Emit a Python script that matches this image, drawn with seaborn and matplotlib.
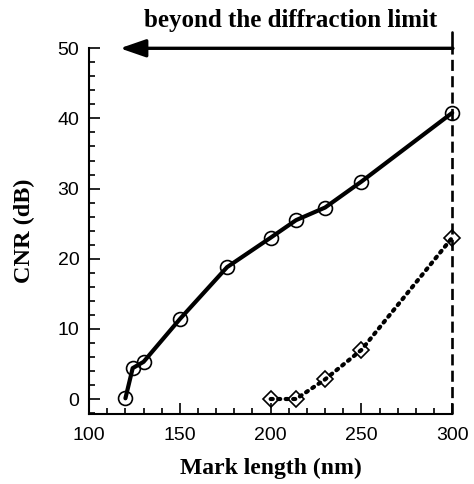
import matplotlib
matplotlib.use("Agg")
import matplotlib.pyplot as plt
from matplotlib.ticker import MultipleLocator
import seaborn as sns
import pandas as pd

# ── Data ─────────────────────────────────────────────────────────────────────
circle_x = [120, 124, 130, 150, 176, 200, 214, 230, 250, 300]
circle_y = [0.1, 4.4, 5.3, 11.4, 18.8, 23.0, 25.5, 27.3, 31.0, 40.8]

diamond_x = [200, 214, 230, 250, 300]
diamond_y = [0.0, 0.0, 2.8, 7.0, 23.0]

x_ticks = [100, 150, 200, 250, 300]
y_ticks = [0, 10, 20, 30, 40, 50]

annotation = "beyond the diffraction limit"
limit_x = 300

df_c = pd.DataFrame({"x": circle_x, "y": circle_y})
df_d = pd.DataFrame({"x": diamond_x, "y": diamond_y})

# ── Style ────────────────────────────────────────────────────────────────────
sns.set_theme(style="ticks")
plt.rcParams["font.family"] = ["Liberation Sans", "DejaVu Sans"]
plt.rcParams["text.color"] = "black"
plt.rcParams["axes.labelcolor"] = "black"
plt.rcParams["xtick.color"] = "black"
plt.rcParams["ytick.color"] = "black"

serif = ["Liberation Serif", "DejaVu Serif"]

fig = plt.figure(figsize=(4.74, 4.84), dpi=100)
ax = fig.add_axes([0.188, 0.1446, 0.766, 0.7556])

sns.lineplot(data=df_c, x="x", y="y", ax=ax, color="black", linewidth=3.0,
             marker="o", markersize=10, markerfacecolor="none",
             markeredgecolor="black", markeredgewidth=1.2, clip_on=False)
sns.lineplot(data=df_d, x="x", y="y", ax=ax, color="black", linewidth=3.0,
             linestyle=(0, (0.5, 1.3)), dash_capstyle="round",
             marker="D", markersize=8, markerfacecolor="none",
             markeredgecolor="black", markeredgewidth=1.2, clip_on=False)

# diffraction limit line and arrow
ax.plot([limit_x, limit_x], [-2.1, 50], color="black", linewidth=1.9,
        linestyle=(0, (4.2, 2.0)), clip_on=False)
ax.plot([limit_x, limit_x], [50, 52.3], color="black", linewidth=1.9,
        clip_on=False)
ax.annotate("", xy=(117, 50), xytext=(limit_x + 0.4, 50),
            arrowprops=dict(arrowstyle="-|>,head_length=1.3,head_width=0.45",
                            color="black", linewidth=2.4,
                            shrinkA=0, shrinkB=0),
            annotation_clip=False)
ax.text(211, 54.0, annotation, ha="center", va="center", fontsize=18,
        fontweight="bold", family=serif)

# ── Axes ─────────────────────────────────────────────────────────────────────
ax.set_xlim(100, 300)
ax.set_ylim(-2.14, 50)
ax.set_xticks(x_ticks)
ax.set_yticks(y_ticks)
ax.xaxis.set_minor_locator(MultipleLocator(10))
ax.yaxis.set_minor_locator(MultipleLocator(2))
ax.tick_params(which="both", direction="in", width=1.2, labelsize=14)
ax.tick_params(axis="x", pad=9)
ax.tick_params(axis="y", pad=7)
ax.tick_params(which="major", length=8)
ax.tick_params(which="minor", length=4)

sns.despine(ax=ax)
ax.spines["left"].set_linewidth(1.5)
ax.spines["bottom"].set_linewidth(1.5)
ax.spines["left"].set_color("black")
ax.spines["bottom"].set_color("black")

ax.set_xlabel("Mark length (nm)", fontsize=17, fontweight="bold",
              family=serif, labelpad=10)
ax.set_ylabel("CNR (dB)", fontsize=17.5, fontweight="bold",
              family=serif, labelpad=16)
ax.grid(False)

fig.savefig("out.png", dpi=100)
